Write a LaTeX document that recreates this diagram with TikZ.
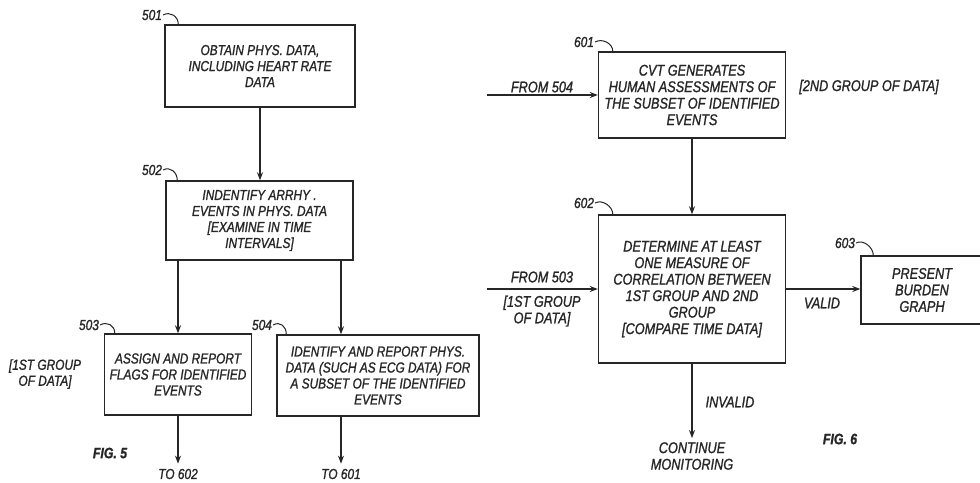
\documentclass[tikz,border=0pt]{standalone}
\usepackage{fontspec}
\setmainfont{Liberation Sans}[FakeStretch=0.82, FakeBold=1.2]
\usetikzlibrary{arrows.meta,calc}
\definecolor{ink}{HTML}{262626}
\begin{document}
\begin{tikzpicture}[x=1pt,y=-1pt,
  every node/.style={font=\fontsize{14.5}{16}\selectfont\itshape, text=ink},
  box/.style={draw=ink, line width=1.4pt, align=center, inner sep=2pt},
  bigtxt/.style={font=\fontsize{15.5}{16.5}\selectfont\itshape},
  lbl/.style={inner sep=1pt},
  txt/.style={align=center, inner sep=1pt},
  fig/.style={font=\fontsize{15}{16}\selectfont\bfseries\itshape, inner sep=1pt},
  arr/.style={draw=ink, line width=1.5pt, -{Stealth[length=8pt,width=6pt]}},
  curl/.style={draw=ink, line width=1pt}
]
\useasboundingbox (0,0) rectangle (980,482);
\fill[white] (0,0) rectangle (980,482);

% ---------- FIG. 5 ----------
\node[box, minimum width=190pt, minimum height=82pt] (b501) at (260,66)
  {OBTAIN PHYS. DATA,\\INCLUDING HEART RATE\\DATA};
\node[box, minimum width=187pt, minimum height=79pt] (b502) at (259.5,220.5)
  {INDENTIFY ARRHY .\\EVENTS IN PHYS. DATA\\{[}EXAMINE IN TIME\\INTERVALS]};
\node[box, minimum width=147pt, minimum height=81pt] (b503) at (178,374.5)
  {ASSIGN AND REPORT\\FLAGS FOR IDENTIFIED\\EVENTS};
\node[box, minimum width=202pt, minimum height=81pt] (b504) at (378,375.5)
  {IDENTIFY AND REPORT PHYS.\\DATA (SUCH AS ECG DATA) FOR\\A SUBSET OF THE IDENTIFIED\\EVENTS};

\node[lbl] (l501) at (152,15) {501};
\node[lbl] (l502) at (152,170) {502};
\node[lbl] (l503) at (89,325) {503};
\node[lbl] (l504) at (262,325) {504};

\draw[curl] (l501.east) .. controls +(7,-4) and +(0,-8) .. ($(b501.north west)+(14,0)$);
\draw[curl] (l502.east) .. controls +(7,-4) and +(0,-8) .. ($(b502.north west)+(12,0)$);
\draw[curl] (l503.east) .. controls +(7,-4) and +(0,-8) .. ($(b503.north west)+(11,0)$);
\draw[curl] (l504.east) .. controls +(7,-4) and +(0,-8) .. ($(b504.north west)+(10,0)$);

\node[txt] (g1a) at (45,374) {{[}1ST GROUP\\OF DATA]};
\node[fig] (fig5) at (110,453) {FIG. 5};
\node[txt] (t602) at (178,474) {TO 602};
\node[txt] (t601) at (341,474) {TO 601};

\coordinate (c504) at (341,0);
\draw[arr] (b501.south) -- (b501.south |- b502.north);
\draw[arr] (b503.north |- b502.south) -- (b503.north);
\draw[arr] (b502.south -| c504) -- (b504.north -| c504);
\draw[arr, shorten >=4pt] (b503.south) -- (b503.south |- t602.north);
\draw[arr, shorten >=4pt] (b504.south -| c504) -- (t601.north -| c504);

% ---------- FIG. 6 ----------
\node[box, bigtxt, minimum width=187pt, minimum height=86pt] (b601) at (692,95)
  {CVT GENERATES\\HUMAN ASSESSMENTS OF\\THE SUBSET OF IDENTIFIED\\EVENTS};
\node[box, bigtxt, minimum width=187pt, minimum height=148pt] (b602) at (692,289)
  {DETERMINE AT LEAST\\ONE MEASURE OF\\CORRELATION BETWEEN\\1ST GROUP AND 2ND\\GROUP\\{[}COMPARE TIME DATA]};
\node[box, bigtxt, minimum width=122pt, minimum height=68pt] (b603) at (922,290)
  {PRESENT\\BURDEN\\GRAPH};

\node[lbl] (l601) at (584,42) {601};
\node[lbl] (l602) at (584,203) {602};
\node[lbl] (l603) at (845,243) {603};
\draw[curl] (l601.east) .. controls +(7,-4) and +(0,-8) .. ($(b601.north west)+(15,0)$);
\draw[curl] (l602.east) .. controls +(7,-4) and +(0,-8) .. ($(b602.north west)+(15,0)$);
\draw[curl] (l603.east) .. controls +(7,-4) and +(0,-8) .. ($(b603.north west)+(13,0)$);

\coordinate (f504) at (487,95);
\coordinate (f503) at (487,289);
\node[txt, bigtxt] (n504) at (542,87) {FROM 504};
\node[txt, bigtxt] (g2) at (869,87) {{[}2ND GROUP OF DATA]};
\node[txt, bigtxt] (n503) at (542,277) {FROM 503};
\node[txt, bigtxt] (g1b) at (542,311) {{[}1ST GROUP\\OF DATA]};
\node[txt, bigtxt] (valid) at (822,303) {VALID};
\node[txt, bigtxt] (invalid) at (730,402) {INVALID};
\node[txt, bigtxt] (cont) at (692,456) {CONTINUE\\MONITORING};
\node[fig] (fig6) at (840,439) {FIG. 6};

\draw[arr] (f504) -- (b601.west |- f504);
\draw[arr] (f503) -- (b602.west |- f503);
\draw[arr] (b601.south) -- (b602.north);
\draw[arr] (b602.east |- f503) -- (b603.west |- f503);
\draw[arr, shorten >=3pt] (b602.south) -- (cont.north);
\end{tikzpicture}
\end{document}
